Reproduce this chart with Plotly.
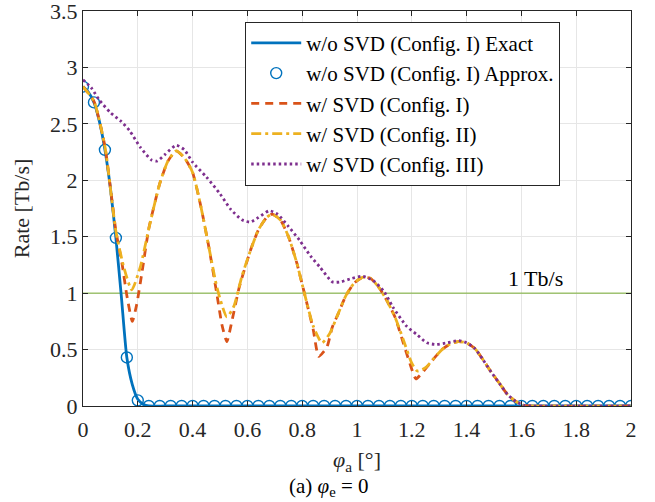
import plotly.graph_objects as go

# ---------------- data ----------------
exact_x = [0, 0.02, 0.04, 0.06, 0.08, 0.10, 0.12, 0.14, 0.16, 0.18, 0.20, 0.22, 0.24, 0.30, 0.50, 1.00, 1.50, 2.00]
exact_y = [2.83, 2.78, 2.69, 2.52, 2.27, 1.93, 1.49, 0.97, 0.43, 0.19, 0.06, 0.015, 0.0, 0.0, 0.0, 0.0, 0.0, 0.0]

approx_x = [0.00, 0.04, 0.08, 0.12, 0.16, 0.20, 0.24, 0.28, 0.32, 0.36, 0.40, 0.44, 0.48,
            0.52, 0.56, 0.60, 0.64, 0.68, 0.72, 0.76, 0.80, 0.84, 0.88, 0.92, 0.96, 1.00,
            1.04, 1.08, 1.12, 1.16, 1.20, 1.24, 1.28, 1.32, 1.36, 1.40, 1.44, 1.48, 1.52,
            1.56, 1.60, 1.64, 1.68, 1.72, 1.76, 1.80, 1.84, 1.88, 1.92, 1.96, 2.00]
approx_y = [2.83, 2.69, 2.27, 1.49, 0.43, 0.05, 0.0, 0.0, 0.0, 0.0, 0.0, 0.0, 0.0,
            0.0, 0.0, 0.0, 0.0, 0.0, 0.0, 0.0, 0.0, 0.0, 0.0, 0.0, 0.0, 0.0,
            0.0, 0.0, 0.0, 0.0, 0.0, 0.0, 0.0, 0.0, 0.0, 0.0, 0.0, 0.0, 0.0,
            0.0, 0.0, 0.0, 0.0, 0.0, 0.0, 0.0, 0.0, 0.0, 0.0, 0.0, 0.0]

cfg1_x = [0, 0.04, 0.08, 0.12, 0.142, 0.16, 0.18, 0.196, 0.215, 0.24, 0.28, 0.31, 0.34, 0.37,
          0.40, 0.43, 0.46, 0.49, 0.507, 0.525, 0.545, 0.57, 0.61, 0.64, 0.67, 0.69,
          0.72, 0.75, 0.78, 0.81, 0.84, 0.86, 0.89, 0.91, 0.93, 0.96, 0.99, 1.02, 1.05,
          1.08, 1.11, 1.14, 1.17, 1.19, 1.215, 1.24, 1.27, 1.31, 1.34, 1.37, 1.40,
          1.43, 1.46, 1.49, 1.52, 1.55, 1.58, 1.61, 1.64, 2.00]
cfg1_y = [2.83, 2.70, 2.30, 1.55, 1.27, 0.98, 0.75, 0.90, 1.18, 1.57, 1.97, 2.17, 2.26, 2.20,
          2.07, 1.77, 1.40, 0.97, 0.72, 0.57, 0.77, 1.05, 1.37, 1.56, 1.67, 1.70,
          1.65, 1.50, 1.27, 0.98, 0.68, 0.44, 0.52, 0.70, 0.81, 0.98, 1.09, 1.14, 1.13,
          1.05, 0.93, 0.78, 0.55, 0.40, 0.24, 0.30, 0.39, 0.50, 0.55, 0.57, 0.56,
          0.51, 0.41, 0.30, 0.20, 0.10, 0.04, 0.005, 0.0, 0.0]

cfg2_x = [0, 0.04, 0.08, 0.12, 0.15, 0.178, 0.21, 0.24, 0.28, 0.31, 0.34, 0.37, 0.40,
          0.43, 0.46, 0.49, 0.525, 0.55, 0.58, 0.61, 0.64, 0.67, 0.69, 0.72, 0.75, 0.78,
          0.81, 0.84, 0.872, 0.90, 0.93, 0.96, 0.99, 1.02, 1.05, 1.08, 1.11, 1.14, 1.17,
          1.20, 1.22, 1.25, 1.28, 1.31, 1.34, 1.37, 1.40, 1.43, 1.46, 1.49, 1.52, 1.55,
          1.58, 1.61, 1.64, 2.00]
cfg2_y = [2.83, 2.70, 2.30, 1.55, 1.22, 1.03, 1.24, 1.57, 1.97, 2.17, 2.26, 2.20, 2.07,
          1.77, 1.40, 1.04, 0.79, 0.88, 1.15, 1.37, 1.56, 1.67, 1.70, 1.65, 1.50, 1.27,
          0.98, 0.71, 0.56, 0.64, 0.81, 0.98, 1.09, 1.14, 1.13, 1.05, 0.93, 0.78, 0.58,
          0.38, 0.31, 0.34, 0.42, 0.50, 0.55, 0.57, 0.56, 0.51, 0.41, 0.30, 0.20, 0.10,
          0.04, 0.005, 0.0, 0.0]

cfg3_x = [0, 0.03, 0.06, 0.10, 0.14, 0.17, 0.21, 0.25, 0.27, 0.30, 0.34, 0.37, 0.40,
          0.45, 0.50, 0.54, 0.58, 0.61, 0.64, 0.68, 0.71, 0.75, 0.79, 0.83, 0.865, 0.91,
          0.94, 0.98, 1.02, 1.06, 1.10, 1.13, 1.18, 1.22, 1.255, 1.29, 1.33, 1.37, 1.40,
          1.43, 1.46, 1.49, 1.52, 1.55, 1.58, 1.61, 1.64, 2.00]
cfg3_y = [2.89, 2.82, 2.71, 2.60, 2.52, 2.44, 2.29, 2.18, 2.17, 2.23, 2.31, 2.27, 2.16,
          2.03, 1.88, 1.74, 1.65, 1.63, 1.67, 1.73, 1.70, 1.59, 1.47, 1.33, 1.23, 1.10,
          1.10, 1.13, 1.15, 1.11, 1.01, 0.88, 0.71, 0.63, 0.56, 0.545, 0.56, 0.58, 0.56,
          0.51, 0.41, 0.30, 0.20, 0.10, 0.04, 0.005, 0.0, 0.0]

threshold = 1.0
x_ticks = [0, 0.2, 0.4, 0.6, 0.8, 1, 1.2, 1.4, 1.6, 1.8, 2]
x_tick_text = ["0", "0.2", "0.4", "0.6", "0.8", "1", "1.2", "1.4", "1.6", "1.8", "2"]
y_ticks = [0, 0.5, 1, 1.5, 2, 2.5, 3, 3.5]
y_tick_text = ["0", "0.5", "1", "1.5", "2", "2.5", "3", "3.5"]

names = ["w/o SVD (Config. I) Exact", "w/o SVD (Config. I) Approx.",
         "w/ SVD (Config. I)", "w/ SVD (Config. II)", "w/ SVD (Config. III)"]

# ---------------- figure ----------------
SERIF = "Liberation Serif"
fig = go.Figure()

fig.add_trace(go.Scatter(x=[0, 2], y=[threshold, threshold], mode="lines",
                         line=dict(color="#77AC30", width=1), showlegend=False,
                         hoverinfo="skip"))

fig.add_trace(go.Scatter(x=exact_x, y=exact_y, mode="lines", name=names[0],
                         line=dict(color="#0072BD", width=2.8, shape="spline", smoothing=0.6)))
fig.add_trace(go.Scatter(x=approx_x, y=approx_y, mode="markers", name=names[1],
                         marker=dict(symbol="circle-open", size=11, color="#0072BD",
                                     line=dict(width=1.4, color="#0072BD"))))
fig.add_trace(go.Scatter(x=cfg1_x, y=cfg1_y, mode="lines", name=names[2],
                         line=dict(color="#D95319", width=2.8, dash="8px,6px",
                                   shape="spline", smoothing=0.5)))
fig.add_trace(go.Scatter(x=cfg2_x, y=cfg2_y, mode="lines", name=names[3],
                         line=dict(color="#EDB120", width=2.8, dash="10px,4px,3px,4px",
                                   shape="spline", smoothing=0.6)))
fig.add_trace(go.Scatter(x=cfg3_x, y=cfg3_y, mode="lines", name=names[4],
                         line=dict(color="#7E2F8E", width=2.8, dash="2.5px,3px",
                                   shape="spline", smoothing=0.6)))

fig.add_annotation(x=1.65, y=1.13, text="1 Tb/s", showarrow=False,
                   font=dict(family=SERIF, size=22, color="#000"))
fig.add_annotation(x=0.449, y=-0.205, xref="paper", yref="paper", yanchor="middle",
                   text="(a) <i>φ</i><sub>e</sub> = 0", showarrow=False,
                   font=dict(family=SERIF, size=21, color="#000"))

axis_common = dict(showgrid=True, gridcolor="#E6E6E6", gridwidth=1,
                   ticks="inside", ticklen=5, tickcolor="#262626",
                   showline=True, linecolor="#262626", linewidth=1, mirror="ticks",
                   zeroline=False, automargin=False, ticklabeloverflow="allow",
                   tickfont=dict(family=SERIF, size=22, color="#262626"))

fig.update_xaxes(range=[0, 2], tickvals=x_ticks, ticktext=x_tick_text,
                 ticklabelstandoff=4,
                 title=dict(text="<i>φ</i><sub>a</sub> [°]", standoff=10,
                            font=dict(family=SERIF, size=22, color="#262626")),
                 **axis_common)
fig.update_yaxes(range=[0, 3.5], tickvals=y_ticks, ticktext=y_tick_text,
                 title=dict(text="Rate [Tb/s]", standoff=14,
                            font=dict(family=SERIF, size=22, color="#262626")),
                 **axis_common)

fig.update_layout(
    width=655, height=502,
    margin=dict(l=83, r=24, t=11, b=96),
    plot_bgcolor="white", paper_bgcolor="white",
    legend=dict(x=0.296, y=0.973, xanchor="left", yanchor="top",
                bgcolor="white", bordercolor="#262626", borderwidth=1,
                font=dict(family=SERIF, size=21, color="#000"),
                tracegroupgap=0, itemwidth=50),
)

# remove the default 8px page margin so the figure fills the 655x502 window
fig.write_html("out.html", config={"displayModeBar": False},
               post_script="document.body.style.margin='0';")
